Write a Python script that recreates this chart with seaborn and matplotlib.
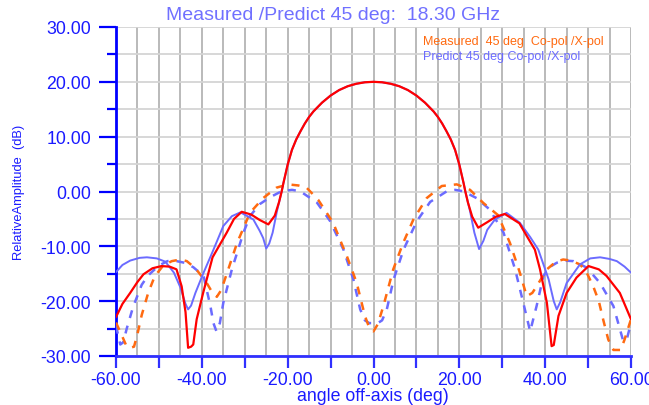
import numpy as np
import pandas as pd
import matplotlib
matplotlib.use("Agg")
import matplotlib.pyplot as plt
import seaborn as sns
from matplotlib.ticker import MultipleLocator, FuncFormatter

# ---------------- data ----------------
title = "Measured /Predict 45 deg:  18.30 GHz"
x_label = "angle off-axis (deg)"
y_label = "RelativeAmplitude  (dB)"
legend_labels = ["Measured  45 deg  Co-pol /X-pol", "Predict 45 deg Co-pol /X-pol"]

# Measured co-pol (red solid)
meas_co_x = [-60, -58.5, -56.7, -55, -53.6, -51.5, -49.4, -47.5, -45.9, -44.7,
             -43.8, -43.2, -42.5, -42, -41.2, -39.7, -37.5, -34.2, -32.5, -30.7,
             -28.5, -26.5, -24.5, -23, -22, -21.4, -21, -20, -19, -18,
             -17, -16, -15, -14, -12, -10, -8, -6, -4, -2,
             0, 2, 4, 6, 8, 10, 12, 14, 15, 16,
             17, 18, 19, 20, 21, 21.4, 22, 23, 24.4, 26.5,
             28.5, 30.6, 34, 35.7, 37.6, 38.8, 40.4, 41.5, 42, 43.1,
             45, 47.3, 50.1, 52.5, 54.3, 57.4, 60]
meas_co_y = [-22.9, -20.5, -18.5, -16.5, -15.1, -14.0, -13.6, -13.7, -14.2, -17.3,
             -22.0, -28.5, -28.3, -27.9, -23.3, -18.5, -12.0, -7.5, -5.0, -3.7,
             -4.2, -5.2, -6.0, -4.4, -1.9, 0.0, 1.5, 4.9, 7.6, 9.5,
             11.0, 12.4, 13.6, 14.6, 16.2, 17.5, 18.5, 19.2, 19.65, 19.92,
             20.0, 19.92, 19.65, 19.2, 18.5, 17.5, 16.2, 14.6, 13.6, 12.4,
             11.0, 9.5, 7.6, 4.9, 1.5, 0.0, -2.0, -4.6, -6.6, -5.6,
             -4.6, -4.1, -5.8, -8.1, -10.6, -14.2, -20.3, -28.2, -28.0, -22.7,
             -18.5, -15.7, -13.6, -14.2, -15.4, -18.5, -23.3]

# Predicted co-pol (blue solid)
pred_co_x = [-60, -58.5, -56.7, -54.5, -52.8, -50.5, -48.5, -46.5, -45, -43.8,
             -43.2, -42.5, -41.5, -39.7, -37.5, -35, -33, -31, -28, -26.5,
             -25.7, -25, -24.3, -23.5, -22.5, -21.4, -21, -20, -19, -18,
             -17, -16, -15, -14, -12, -10, -8, -6, -4, -2,
             0, 2, 4, 6, 8, 10, 12, 14, 15, 16,
             17, 18, 19, 20, 21, 21.4, 22.5, 23.5, 24.6, 25.6,
             26.5, 28.3, 31, 34.1, 36.5, 38.4, 40.8, 42, 42.7, 43.5,
             45, 48.1, 50.5, 52.8, 55, 56.7, 58.5, 60]
pred_co_y = [-14.7, -13.4, -12.6, -12.1, -12.0, -12.2, -12.8, -14.8, -17.5, -20.5,
             -21.5, -20.8, -18.5, -15.0, -11.0, -6.3, -4.5, -3.8, -5.1, -7.2,
             -8.5, -10.4, -9.5, -7.5, -3.6, 0.0, 1.5, 4.9, 7.6, 9.5,
             11.0, 12.4, 13.6, 14.6, 16.2, 17.5, 18.5, 19.2, 19.65, 19.92,
             20.0, 19.92, 19.65, 19.2, 18.5, 17.5, 16.2, 14.6, 13.6, 12.4,
             11.0, 9.5, 7.6, 4.9, 1.5, 0.0, -3.6, -7.5, -10.5, -9.0,
             -7.0, -5.1, -3.9, -5.7, -8.3, -10.6, -16.0, -20.0, -21.5, -20.2,
             -16.7, -13.3, -12.2, -12.0, -12.3, -12.7, -13.7, -14.8]

# Measured X-pol (orange dashed)
meas_x_x = [-60, -58.5, -57.5, -56.7, -55.8, -55, -54, -52.5, -51, -49, -47, -45, -43.5, -41.5, -39,
            -37.5, -36.5, -35.5, -34.1, -31.8, -29.5, -28.8, -25.7, -22.6, -19.9, -17.5, -15.6, -12.9,
            -9.4, -7.8, -6.2, -3.9, -2, -1, 0, 1, 2.3, 4.6, 6.9, 9.3, 12.4, 15.9, 19.4, 22.5, 25.6, 29,
            31.8, 34.1, 35.7, 37, 38, 40.4, 42.5, 44.2, 46, 48.1, 49.5, 51.2, 52.5, 53.5, 54.7, 55.9,
            57.6, 58.5, 60]
meas_x_y = [-23.9, -26.5, -28.3, -28.5, -28.3, -26.0, -22.5, -18.5, -15.5, -13.5, -12.7, -12.4, -12.7, -14.0, -16.5,
            -18.5, -19.2, -18.0, -14.8, -9.4, -5.2, -3.9, -1.2, 0.7, 1.3, 1.1, 0.7, -1.5,
            -5.7, -8.8, -11.8, -16.7, -22.7, -24.8, -25.5, -24.2, -20.9, -14.2, -9.4, -5.1, -1.2, 1.0, 1.3, 0.3, -2.1, -4.3,
            -9.4, -14.8, -19.1, -18.5, -17.3, -14.2, -12.8, -12.4, -12.6, -13.3, -14.5, -17.3, -20.0, -23.3, -27.0, -28.9,
            -28.9, -27.0, -23.3]

# Predicted X-pol (blue dashed)
pred_x_x = [-60, -59, -58.3, -57.5, -56, -54, -52.5, -50, -48, -46.5, -44, -42, -39.6, -38, -37.3, -36.6,
            -35.8, -35, -33, -30.3, -28.8, -26.5, -24, -21.4, -19, -17.1, -13.2, -10.1, -7, -4.7, -3.1,
            -2, -1, 0, 1, 2, 3.1, 4.7, 7, 10.1, 13.2, 17.1, 19, 20.9, 24, 27.1, 30.3, 33, 34.9, 36.5,
            38, 39.6, 41, 42.7, 44.5, 46.6, 48, 49.7, 52.8, 55.9, 57.2, 58.2, 59, 60]
pred_x_y = [-24.5, -27.9, -27.5, -25.0, -21.0, -17.0, -15.3, -13.5, -12.7, -12.6, -13.0, -13.8, -15.4, -20.9, -24.0, -25.5,
            -24.0, -20.3, -14.2, -7.5, -4.5, -2.3, -1.0, 0.05, 0.3, 0.05, -2.0, -5.4, -10.6, -16.0, -21.5,
            -23.5, -24.0, -24.0, -24.0, -23.5, -21.5, -16.0, -10.6, -5.4, -1.9, 0.05, 0.3, 0.05, -1.2, -3.3, -7.5, -14.2, -20.3, -25.5,
            -20.9, -15.4, -13.8, -13.0, -12.6, -12.7, -13.2, -13.9, -16.7, -20.9, -24.5, -27.3, -27.0, -24.0]

# ---------------- style ----------------
sns.set_style("white")
plt.rcParams["font.family"] = ["Liberation Sans", "DejaVu Sans"]

BLUE_AX = "#0000ff"
BLUE_TXT = "#1a1aff"
PRED_BLUE = "#6b6bff"
ORANGE = "#ff6a10"
RED = "#ff0000"

fig = plt.figure(figsize=(6.49, 4.06), dpi=100)
ax = fig.add_axes([116 / 649, 1 - 357 / 406, (631 - 116) / 649, (357 - 28) / 406])

dash = (0, (3.2, 3.2))
sns.lineplot(x=pred_x_x, y=pred_x_y, ax=ax, color=PRED_BLUE, linewidth=1.8,
             linestyle=dash, estimator=None, sort=False, zorder=3)
sns.lineplot(x=meas_x_x, y=meas_x_y, ax=ax, color=ORANGE, linewidth=1.8,
             linestyle=dash, estimator=None, sort=False, zorder=3)
sns.lineplot(x=pred_co_x, y=pred_co_y, ax=ax, color=PRED_BLUE, linewidth=1.4,
             estimator=None, sort=False, zorder=4)
sns.lineplot(x=meas_co_x, y=meas_co_y, ax=ax, color=RED, linewidth=1.6,
             estimator=None, sort=False, zorder=5)

ax.set_xlim(-60, 60)
ax.set_ylim(-30, 30)

ax.xaxis.set_major_locator(MultipleLocator(10))
ax.xaxis.set_minor_locator(MultipleLocator(5))
ax.yaxis.set_major_locator(MultipleLocator(10))
ax.yaxis.set_minor_locator(MultipleLocator(5))
ax.xaxis.set_major_formatter(FuncFormatter(lambda v, p: f"{v:.2f}" if abs(round(v)) % 20 == 0 else ""))
ax.yaxis.set_major_formatter(FuncFormatter(lambda v, p: f"{v:.2f}"))

ax.set_axisbelow(True)
ax.grid(which="both", axis="x", color="#b4b4b4", linewidth=1.3)
ax.grid(which="both", axis="y", color="#d4d4d4", linewidth=1.3)

for s in ["top", "right"]:
    ax.spines[s].set_visible(False)
ax.spines["left"].set_color(BLUE_AX)
ax.spines["left"].set_linewidth(2.0)
ax.spines["bottom"].set_color("#3030ff")
ax.spines["bottom"].set_linewidth(2.0)

ax.tick_params(axis="y", which="major", direction="out", length=12, width=1.6, color=BLUE_AX,
               labelcolor=BLUE_TXT, labelsize=12.8, pad=6, left=True)
ax.tick_params(axis="y", which="minor", direction="out", length=6.5, width=1.6, color=BLUE_AX, left=True)
ax.tick_params(axis="x", which="major", direction="out", length=8.5, width=1.6, color="#3030ff",
               labelcolor=BLUE_TXT, labelsize=12.8, pad=2, bottom=True)
ax.tick_params(axis="x", which="minor", length=0)

ax.set_ylabel(y_label, color=BLUE_TXT, fontsize=9.3, labelpad=2)
ax.yaxis.set_label_coords(-91 / 515, 0.5)

fig.text(373 / 649, 1 - 397 / 406, x_label, color=BLUE_TXT, fontsize=12.8, ha="center", va="center")
fig.text(333 / 649, 1 - 15 / 406, title, color="#7070ff", fontsize=14, ha="center", va="center")

fig.text(423 / 649, 1 - 42 / 406, legend_labels[0], color=ORANGE,
         fontsize=9, va="center", ha="left")
fig.text(423 / 649, 1 - 57 / 406, legend_labels[1], color=PRED_BLUE,
         fontsize=9, va="center", ha="left")

fig.savefig("out.png", dpi=100)
